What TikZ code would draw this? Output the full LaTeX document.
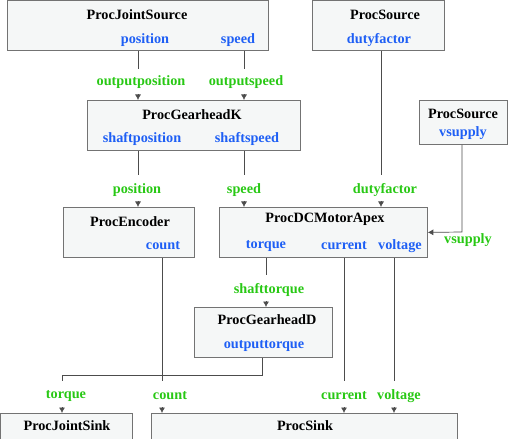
\documentclass[tikz,border=0pt]{standalone}
\usepackage{fontspec}
\setmainfont{Liberation Serif}
\usetikzlibrary{arrows.meta,positioning}
\definecolor{procfill}{RGB}{245,247,247}
\definecolor{portblue}{RGB}{30,95,245}
\definecolor{siggreen}{RGB}{40,200,20}
\tikzset{
  >={Latex[length=5.5bp,width=6bp]},
  {proc/.style} ={draw=black!55, fill=procfill, line width=0.8pt,
                  anchor=north west, inner sep=0},
  {title/.style} ={font=\fontsize{14.3}{15}\selectfont\bfseries, inner sep=0},
  {port/.style} ={title, text=portblue},
  {signal/.style} ={title, text=siggreen},
  {wire/.style} ={draw=black!70, line width=0.7pt},
}

\begin{document}
\begin{tikzpicture}[x=1bp,y=-1bp]
\useasboundingbox (0,0) rectangle (508,439);

% blocks
\node[proc, minimum width=261bp, minimum height=50bp] (jsrc) at (7,0) {};
\node[proc, minimum width=213bp, minimum height=50bp] (gk) at (87,100) {};
\node[proc, minimum width=132bp, minimum height=50bp] (dsrc) at (312,0) {};
\node[proc, minimum width=88bp, minimum height=44bp] (vsrc) at (419,100) {};
\node[proc, minimum width=131bp, minimum height=50bp] (enc) at (63,207) {};
\node[proc, minimum width=208bp, minimum height=50bp] (motor) at (219,207) {};
\node[proc, minimum width=138bp, minimum height=50bp] (gd) at (194,307) {};
\node[proc, minimum width=132bp, minimum height=32bp] (jsink) at (0,413) {};
\node[proc, minimum width=306bp, minimum height=32bp] (sink) at (151,413) {};

% block titles
\node[title] (jsrc-t) at (137,15) {ProcJointSource};
\node[title] (gk-t) at (192,115) {ProcGearheadK};
\node[title] (dsrc-t) at (385,15) {ProcSource};
\node[title] (vsrc-t) at (463,114) {ProcSource};
\node[title] (enc-t) at (130,222) {ProcEncoder};
\node[title] (motor-t) at (325,219) {ProcDCMotorApex};
\node[title] (gd-t) at (267,320) {ProcGearheadD};
\node[title] (jsink-t) at (67,426) {ProcJointSink};
\node[title] (sink-t) at (305,426) {ProcSink};

% ports
\node[port] (jsrc-pos) at (145,40) {position};
\node[port] (jsrc-spd) at (238,40) {speed};
\node[port] (gk-pos) at (142,139) {shaftposition};
\node[port] (gk-spd) at (247,139) {shaftspeed};
\node[port] (dsrc-df) at (379,40) {dutyfactor};
\node[port] (vsrc-vs) at (463,133) {vsupply};
\node[port] (enc-cnt) at (163,246) {count};
\node[port] (motor-trq) at (266,246) {torque};
\node[port] (motor-cur) at (344,246) {current};
\node[port] (motor-vol) at (400,246) {voltage};
\node[port] (gd-out) at (264,346) {outputtorque};

% signal names
\node[signal] (s-op) at (141,82) {outputposition};
\node[signal] (s-os) at (246,82) {outputspeed};
\node[signal] (s-pos) at (137,190) {position};
\node[signal] (s-spd) at (244,190) {speed};
\node[signal] (s-df) at (385,190) {dutyfactor};
\node[signal] (s-vs) at (468,240) {vsupply};
\node[signal] (s-st) at (269,290) {shafttorque};
\node[signal] (s-trq) at (66,396) {torque};
\node[signal] (s-cnt) at (170,396) {count};
\node[signal] (s-cur) at (344,396) {current};
\node[signal] (s-vol) at (399,396) {voltage};

% wire ends
\coordinate (w-op) at (138,69);
\coordinate (w-os) at (244,69);
\coordinate (w-pos) at (138,175);
\coordinate (w-spd) at (244,175);
\coordinate (w-df) at (381,175);
\coordinate (w-vs) at (462,232);
\coordinate (w-st) at (266,275);
\coordinate (w-out) at (262,375);
\coordinate (w-trq) at (62,381);
\coordinate (w-cnt) at (162,381);
\coordinate (w-cur) at (344,381);
\coordinate (w-vol) at (394,381);

% wires
\draw[wire] (jsrc.south -| w-op) -- (w-op);
\draw[wire,->] (gk.north -| w-op) ++(0,-6) -- (gk.north -| w-op);
\draw[wire] (jsrc.south -| w-os) -- (w-os);
\draw[wire,->] (gk.north -| w-os) ++(0,-6) -- (gk.north -| w-os);
\draw[wire] (gk.south -| w-pos) -- (w-pos);
\draw[wire,->] (enc.north -| w-pos) ++(0,-6) -- (enc.north -| w-pos);
\draw[wire] (gk.south -| w-spd) -- (w-spd);
\draw[wire,->] (motor.north -| w-spd) ++(0,-6) -- (motor.north -| w-spd);
\draw[wire] (dsrc.south -| w-df) -- (w-df);
\draw[wire,->] (motor.north -| w-df) ++(0,-6) -- (motor.north -| w-df);
\draw[wire,->] (vsrc.south -| w-vs) -- (w-vs) -- (motor.east);
\draw[wire] (motor.south -| w-st) -- (w-st);
\draw[wire,->] (gd.north -| w-st) ++(0,-6) -- (gd.north -| w-st);
\draw[wire] (gd.south -| w-out) -- (w-out) -| (w-trq);
\draw[wire,->] (jsink.north -| w-trq) ++(0,-6) -- (jsink.north -| w-trq);
\draw[wire] (enc.south -| w-cnt) -- (w-cnt);
\draw[wire,->] (sink.north -| w-cnt) ++(0,-6) -- (sink.north -| w-cnt);
\draw[wire] (motor.south -| w-cur) -- (w-cur);
\draw[wire,->] (sink.north -| w-cur) ++(0,-6) -- (sink.north -| w-cur);
\draw[wire] (motor.south -| w-vol) -- (w-vol);
\draw[wire,->] (sink.north -| w-vol) ++(0,-6) -- (sink.north -| w-vol);
\end{tikzpicture}
\end{document}
